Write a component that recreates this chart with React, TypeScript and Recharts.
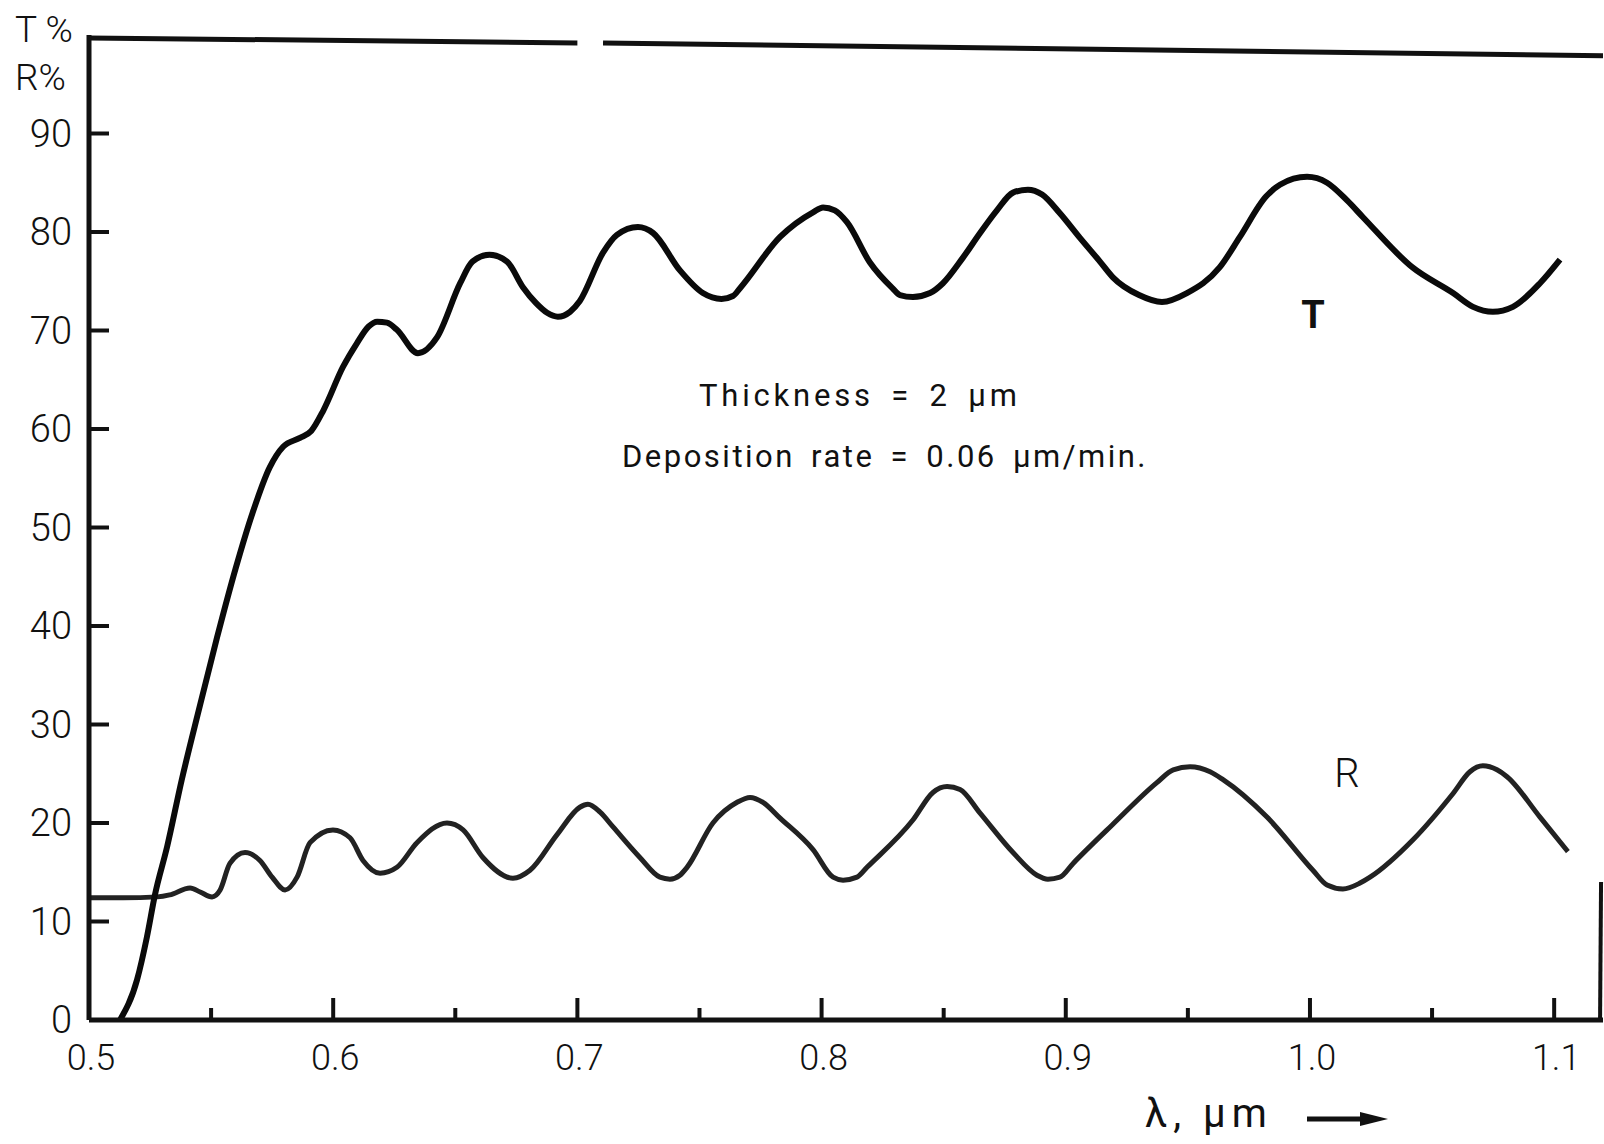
import React from "react";
import { LineChart, Line, XAxis, YAxis, ReferenceLine } from "recharts";

// transmission curve T (wavelength in µm, percent)
const tWavelength = [
  0.5127, 0.5197, 0.5237, 0.527, 0.532, 0.538, 0.545, 0.5524, 0.56, 0.567,
  0.574, 0.5795, 0.5864, 0.591, 0.596, 0.604, 0.6097, 0.6145, 0.618, 0.622,
  0.626, 0.6347, 0.6425, 0.652, 0.657, 0.664, 0.6712, 0.6777, 0.683, 0.6876,
  0.692, 0.697, 0.701, 0.7105, 0.7162, 0.7248, 0.731, 0.742, 0.7514, 0.759,
  0.7637, 0.7666, 0.783, 0.7965, 0.8006, 0.8054, 0.8104, 0.8198, 0.829, 0.8321,
  0.8374, 0.8444, 0.8497, 0.8579, 0.8649, 0.8718, 0.8784, 0.8845, 0.8903, 0.8976,
  0.9058, 0.914, 0.9193, 0.93, 0.9394, 0.9496, 0.963, 0.9713, 0.982, 0.9877,
  0.9988, 1.007, 1.0152, 1.0217, 1.042, 1.0586, 1.0668, 1.0749, 1.0831, 1.0942,
  1.1024,
];
const tPercent = [
  0, 4.1, 8.4, 12.7, 17.6, 24.4, 31.5, 38.8, 45.8, 51.5,
  56.1, 58.2, 59.1, 59.8, 61.9, 66.3, 68.7, 70.4, 70.9, 70.8,
  70.1, 67.7, 69.3, 74.8, 77.0, 77.7, 77.0, 74.4, 72.8, 71.8,
  71.4, 71.9, 73.0, 77.9, 79.7, 80.5, 79.9, 76.1, 73.8, 73.2,
  73.5, 74.3, 79.5, 82.0, 82.5, 82.2, 81.0, 76.9, 74.3, 73.6,
  73.4, 73.8, 74.8, 77.4, 79.9, 82.2, 84.0, 84.3, 83.8, 81.9,
  79.4, 77.0, 75.4, 73.6, 72.9, 73.8, 76.4, 79.5, 83.6, 84.8,
  85.6, 85.0, 83.2, 81.5, 76.4, 73.8, 72.4, 71.9, 72.4, 74.8,
  77.2,
];

// reflection curve R
const rWavelength = [
  0.5, 0.514, 0.528, 0.533, 0.5414, 0.5455, 0.5504, 0.5537, 0.5577, 0.5639,
  0.57, 0.575, 0.5803, 0.5852, 0.5905, 0.5999, 0.6069, 0.6122, 0.6192, 0.6261,
  0.6343, 0.6466, 0.6532, 0.6613, 0.6736, 0.6806, 0.6916, 0.701, 0.7043, 0.7093,
  0.7146, 0.7256, 0.7338, 0.7379, 0.742, 0.7449, 0.7555, 0.7654, 0.7707, 0.776,
  0.783, 0.7965, 0.8047, 0.8088, 0.8145, 0.8186, 0.8374, 0.8456, 0.8514, 0.8567,
  0.8649, 0.8784, 0.8882, 0.8927, 0.8976, 0.903, 0.919, 0.9373, 0.944, 0.9509,
  0.9591, 0.9644, 0.9824, 1.0012, 1.007, 1.0135, 1.0205, 1.0246, 1.0422, 1.0586,
  1.0655, 1.0708, 1.0766, 1.0807, 1.0942, 1.1056,
];
const rPercent = [
  12.4, 12.4, 12.5, 12.7, 13.4, 13.0, 12.5, 13.2, 15.9, 17.0,
  16.2, 14.5, 13.2, 14.5, 18.0, 19.3, 18.5, 16.2, 14.9, 15.5,
  18.0, 20.0, 19.3, 16.5, 14.4, 15.2, 18.8, 21.6, 21.9, 21.1,
  19.6, 16.5, 14.5, 14.3, 14.7, 15.5, 20.0, 22.1, 22.6, 22.1,
  20.5, 17.3, 14.5, 14.2, 14.5, 15.5, 20.3, 23.1, 23.7, 23.4,
  21.0, 17.0, 14.7, 14.3, 14.5, 15.9, 19.8, 24.1, 25.4, 25.7,
  25.2, 24.4, 20.6, 15.2, 13.7, 13.3, 13.9, 14.5, 18.3, 23.0,
  25.2, 25.8, 25.4, 24.7, 20.6, 17.1,
];

const majorXTicks = [0.5, 0.6, 0.7, 0.8, 0.9, 1.0, 1.1];
const xTickLabels = ["0.5", "0.6", "0.7", "0.8", "0.9", "1.0", "1.1"];
const minorXTicks = [0.55, 0.65, 0.75, 0.85, 0.95, 1.05];
const yTicks = [0, 10, 20, 30, 40, 50, 60, 70, 80, 90];

const tData = tWavelength.map((x, i) => ({ x, y: tPercent[i] }));
const rData = rWavelength.map((x, i) => ({ x, y: rPercent[i] }));
const xTicks = [...majorXTicks, ...minorXTicks].sort((a, b) => a - b);

const INK = "#111";
const FONT = "Roboto, 'Liberation Sans', sans-serif";

const XTick = (props: any) => {
  const { x, y, payload } = props;
  const i = majorXTicks.indexOf(payload.value);
  const major = i >= 0;
  return (
    <g>
      <line x1={x} x2={x} y1={y} y2={y - (major ? 22 : 12)} stroke={INK} strokeWidth={4} />
      {major && (
        <text x={x + 2} y={y + 50} textAnchor="middle" fontSize={36} fontWeight={300} fontFamily={FONT} fill={INK}>
          {xTickLabels[i]}
        </text>
      )}
    </g>
  );
};

const YTick = (props: any) => {
  const { x, y, payload } = props;
  return (
    <g>
      <line x1={x} x2={x + 20} y1={y} y2={y} stroke={INK} strokeWidth={4} />
      <text x={x - 17} y={y + 13} textAnchor="end" fontSize={38} fontWeight={300} fontFamily={FONT} fill={INK}>
        {payload.value}
      </text>
    </g>
  );
};

const App = () => {
  return (
    <div style={{ position: "absolute", left: 0, top: 0, width: 1604, height: 1144, background: "#fff" }}>
      <LineChart width={1604} height={1144} margin={{ top: 35, right: 1, bottom: 64, left: 0 }}>
        <XAxis
          dataKey="x"
          type="number"
          domain={[0.5, 1.12]}
          ticks={xTicks}
          interval={0}
          allowDataOverflow
          height={60}
          tickLine={false}
          tickSize={0}
          tickMargin={0}
          tick={<XTick />}
          axisLine={{ stroke: INK, strokeWidth: 5 }}
        />
        <YAxis
          type="number"
          domain={[0, 100]}
          ticks={yTicks}
          interval={0}
          width={89}
          tickLine={false}
          tickSize={0}
          tickMargin={0}
          tick={<YTick />}
          axisLine={{ stroke: INK, strokeWidth: 5 }}
        />
        {/* top frame, broken near 0.7 as in the scan */}
        <ReferenceLine segment={[{ x: 0.5, y: 99.7 }, { x: 0.7, y: 99.2 }]} stroke={INK} strokeWidth={5} ifOverflow="visible" />
        <ReferenceLine segment={[{ x: 0.7105, y: 99.2 }, { x: 1.12, y: 97.9 }]} stroke={INK} strokeWidth={5} ifOverflow="visible" />
        <ReferenceLine segment={[{ x: 1.1188, y: 0 }, { x: 1.1192, y: 14 }]} stroke={INK} strokeWidth={4} ifOverflow="visible" />
        <Line data={rData} dataKey="y" type="monotone" stroke="#222" strokeWidth={5} dot={false} isAnimationActive={false} />
        <Line data={tData} dataKey="y" type="monotone" stroke="#0a0a0a" strokeWidth={6} dot={false} isAnimationActive={false} />

        <text x={15} y={42} fontSize={37} fontWeight={300} fontFamily={FONT} fill={INK}>T %</text>
        <text x={15} y={90} fontSize={37} fontWeight={300} fontFamily={FONT} fill={INK}>R%</text>
        <text x={1313} y={328} textAnchor="middle" fontSize={38} fontWeight={700} fontFamily={FONT} fill={INK}>T</text>
        <text x={1347} y={787} textAnchor="middle" fontSize={40} fontWeight={300} fontFamily={FONT} fill={INK}>R</text>
        <text x={699} y={406} fontSize={31} fontFamily={FONT} fill={INK} style={{ letterSpacing: 3.8, wordSpacing: 6 }}>
          Thickness = 2 μm
        </text>
        <text x={622} y={467} fontSize={31} fontFamily={FONT} fill={INK} style={{ letterSpacing: 2.5, wordSpacing: 6 }}>
          Deposition rate = 0.06 μm/min.
        </text>
        <text x={1145} y={1127} fontSize={40} fontFamily={FONT} fill={INK} style={{ letterSpacing: 6 }}>
          λ, μm
        </text>
        <line x1={1307} x2={1365} y1={1119} y2={1119} stroke={INK} strokeWidth={5} />
        <polygon points="1360,1112 1388,1119 1360,1126" fill={INK} />
      </LineChart>
    </div>
  );
};

export default App;
